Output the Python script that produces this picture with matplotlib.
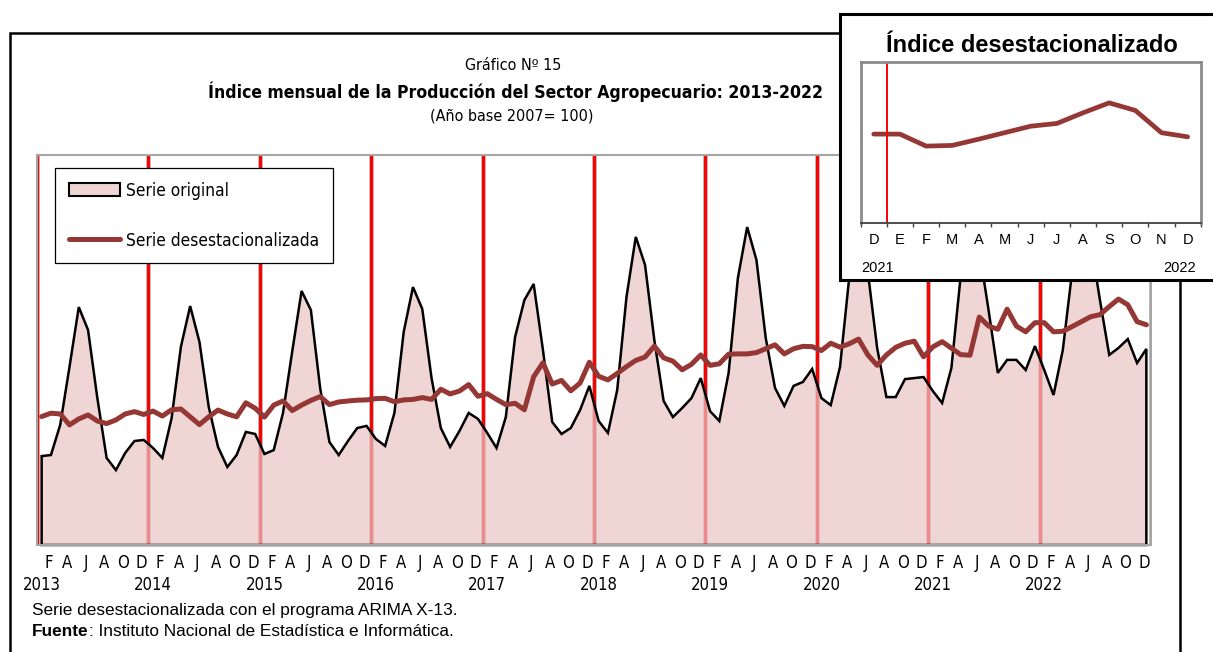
import os
import matplotlib
matplotlib.use('Agg')
import matplotlib.pyplot as plt
from matplotlib import font_manager as fm
from matplotlib.patches import Rectangle, Patch
from matplotlib.lines import Line2D
import numpy as np

W, H = 1213, 652

years = list(range(2013, 2023))
month_marks = ['F', 'A', 'J', 'A', 'O', 'D']
inset_months = ['D', 'E', 'F', 'M', 'A', 'M', 'J', 'J', 'A', 'S', 'O', 'N', 'D']
inset_years = ['2021', '2022']

# Serie original, enero 2013 - diciembre 2022
original = [
    109.2, 109.6, 121.2, 143.5, 166.5, 157.7, 131.5, 108.5, 103.8, 110.4, 115.0, 115.4,
    112.3, 108.5, 123.8, 151.2, 166.9, 153.1, 128.1, 112.7, 105.0, 109.6, 118.5, 117.7,
    110.0, 111.5, 125.8, 149.6, 172.7, 165.4, 135.4, 114.6, 109.6, 115.0, 120.0, 120.8,
    115.8, 113.1, 125.8, 156.9, 174.2, 165.8, 139.2, 120.0, 112.7, 118.8, 125.8, 123.5,
    118.1, 112.3, 124.2, 155.0, 169.2, 175.4, 150.0, 122.3, 117.7, 120.0, 126.9, 136.2,
    122.7, 118.1, 134.6, 170.4, 193.5, 182.7, 153.8, 130.4, 124.2, 127.7, 131.5, 139.2,
    126.5, 122.7, 141.2, 177.7, 197.3, 184.6, 154.6, 135.4, 128.5, 136.2, 137.7, 142.7,
    131.5, 128.8, 143.5, 178.1, 194.2, 180.0, 150.8, 131.9, 131.9, 138.8, 139.2, 139.6,
    134.2, 129.6, 143.1, 178.5, 199.2, 188.5, 165.4, 141.2, 146.2, 146.2, 142.3, 151.5,
    142.3, 132.7, 150.0, 180.0, 201.9, 191.5, 169.2, 148.1, 150.8, 154.2, 145.0, 150.4,
]

# Serie desestacionalizada (ARIMA X-13)
sa = [
    124.4, 125.7, 125.4, 121.2, 123.5, 125.0, 122.7, 121.7, 123.1, 125.4, 126.3, 125.2,
    126.5, 124.6, 127.0, 127.3, 124.3, 121.3, 124.3, 126.9, 125.4, 124.3, 129.7, 127.6,
    124.2, 128.8, 130.4, 126.7, 128.8, 130.6, 132.1, 129.0, 130.0, 130.4, 130.7, 130.8,
    131.3, 131.4, 130.1, 130.8, 131.0, 131.7, 131.0, 134.9, 133.1, 134.2, 136.7, 132.2,
    133.2, 131.0, 129.0, 129.5, 127.0, 139.7, 145.1, 136.9, 138.3, 134.3, 137.3, 145.3,
    139.9, 138.5, 141.0, 143.6, 146.0, 147.3, 151.5, 147.0, 145.7, 142.4, 144.5, 148.1,
    144.1, 144.7, 148.4, 148.5, 148.5, 149.0, 150.5, 152.0, 148.5, 150.5, 151.4, 151.3,
    149.8, 152.6, 151.1, 152.4, 154.2, 148.1, 144.1, 148.1, 151.0, 152.6, 153.4, 147.4,
    151.2, 153.2, 150.7, 148.2, 148.0, 162.7, 159.2, 158.0, 165.7, 159.2, 157.0, 160.5,
    160.5, 157.0, 157.2, 159.0, 160.9, 162.8, 163.6, 166.7, 169.6, 167.4, 160.9, 159.7,
]

FILL = (234 / 255, 196 / 255, 196 / 255, 0.7)
SA_COLOR = '#953735'

_files = {os.path.basename(f.fname): f.fname for f in fm.fontManager.ttflist}


def font(size, bold=False, narrow=False):
    # Arial Narrow no esta disponible: se busca la variante condensada mas cercana
    if narrow:
        cands = (['LiberationSansNarrow-Bold.ttf', 'NotoSans-CondensedBold.ttf',
                  'DejaVuSansCondensed-Bold.ttf'] if bold else
                 ['LiberationSansNarrow-Regular.ttf', 'NotoSans-Condensed.ttf',
                  'DejaVuSansCondensed.ttf'])
        for c in cands:
            if c in _files:
                return fm.FontProperties(fname=_files[c], size=size)
    return fm.FontProperties(family=['Liberation Sans', 'DejaVu Sans'], size=size,
                             weight='bold' if bold else 'normal')


def fx(px):
    return px / W


def fy(py):
    return 1 - py / H


fig = plt.figure(figsize=(W / 100, H / 100), dpi=100)

# marco exterior del grafico
fig.add_artist(Rectangle((fx(10), fy(670)), fx(1180) - fx(10), fy(33) - fy(670),
                         transform=fig.transFigure, fill=False, ec='black', lw=1.8, zorder=2))

fig.text(fx(513), fy(66), 'Gráfico Nº 15', ha='center', va='center',
         fontproperties=font(11.5, narrow=True))
fig.text(fx(516), fy(92), 'Índice mensual de la Producción del Sector Agropecuario: 2013-2022',
         ha='center', va='center', fontproperties=font(12.6, bold=True, narrow=True))
fig.text(fx(512), fy(116), '(Año base 2007= 100)', ha='center', va='center',
         fontproperties=font(11.5, narrow=True))

# grafico principal
ax = fig.add_axes([fx(37), fy(545), (1151 - 37) / W, 390 / H])
n = len(original)
x = np.arange(n)
ax.set_xlim(-0.5, n - 0.5)
ax.set_ylim(75, 225)

# separadores de año
for k in range(len(years) + 1):
    ax.axvline(12 * k - 0.5, color='#b4b4b4', lw=3.4, zorder=1)
    ax.axvline(12 * k - 0.5, color='#ff0000', lw=2.2, zorder=1)

base = ax.get_ylim()[0]
ax.fill([0] + list(x) + [n - 1], [base] + original + [base], facecolor=FILL,
        edgecolor='black', lw=1.8, zorder=2, clip_on=False)
ax.plot(x, sa, color=SA_COLOR, lw=3.6, zorder=3, solid_joinstyle='round', solid_capstyle='round')

ax.set_xticks([])
ax.set_yticks([])
for s in ax.spines.values():
    s.set_color('#a6a6a6')
    s.set_linewidth(1.5)

tr = ax.get_xaxis_transform()
for k, yr in enumerate(years):
    ax.text(12 * k, -0.103, str(yr), transform=tr, ha='center', va='center',
            fontproperties=font(12, narrow=True))
    for j, m in enumerate(month_marks):
        ax.text(12 * k + 2 * j + 1 - 0.25, -0.046, m, transform=tr, ha='center', va='center',
                fontproperties=font(12, narrow=True))

handles = [Patch(facecolor=FILL, edgecolor='black', lw=1.5),
           Line2D([], [], color=SA_COLOR, lw=3.6, solid_capstyle='round')]
leg = ax.legend(handles, ['Serie original', 'Serie desestacionalizada'], loc='upper left',
                bbox_to_anchor=(fx(55), fy(168)), bbox_transform=fig.transFigure,
                borderaxespad=0, fancybox=False, edgecolor='black', framealpha=1,
                prop=font(12.4, narrow=True), handlelength=3.0, handleheight=0.8,
                handletextpad=0.35, labelspacing=1.85, borderpad=0.8)
leg.get_frame().set_linewidth(0.9)

# notas al pie
fig.text(fx(32), fy(610), 'Serie desestacionalizada con el programa ARIMA X-13.',
         ha='left', va='center', fontproperties=font(12.4))
t = fig.text(fx(32), fy(632), 'Fuente', ha='left', va='center', fontproperties=font(12.4, bold=True))
fig.canvas.draw()
bb = t.get_window_extent()
fig.text(bb.x1 / W, fy(632), ': Instituto Nacional de Estadística e Informática.',
         ha='left', va='center', fontproperties=font(12.4))

# recuadro del indice desestacionalizado
fig.add_artist(Rectangle((fx(840), fy(280)), fx(1240) - fx(840), fy(14) - fy(280),
                         transform=fig.transFigure, fc='white', ec='black', lw=2.2, zorder=3))
fig.text(fx(1032), fy(45), 'Índice desestacionalizado', ha='center', va='center',
         fontproperties=font(17, bold=True), zorder=5)

ins = fig.add_axes([fx(860.7), fy(223.3), 340 / W, 161.6 / H], zorder=4)
last = sa[-len(inset_months):]
xi = np.arange(len(inset_months))
ins.plot(xi, last, color=SA_COLOR, lw=3.4, solid_joinstyle='round', solid_capstyle='round')
ins.axvline(0.5, color='#ff0000', lw=1.4)
ins.set_xlim(-0.5, len(inset_months) - 0.5)
ins.set_ylim(134.5, 181.6)
ins.set_yticks([])
ins.set_xticks(np.arange(-0.5, len(inset_months), 1))
ins.set_xticklabels([])
ins.tick_params(axis='x', direction='out', length=3, width=1, color='#404040')
for side in ['left', 'top', 'right']:
    ins.spines[side].set_color('#8c8c8c')
    ins.spines[side].set_linewidth(2)
ins.spines['bottom'].set_color('#404040')
ins.spines['bottom'].set_linewidth(1.3)

itr = ins.get_xaxis_transform()
for j, m in enumerate(inset_months):
    ins.text(j, -0.103, m, transform=itr, ha='center', va='center', fontproperties=font(10.5))
ins.text(0.16, -0.277, inset_years[0], transform=itr, ha='center', va='center',
         fontproperties=font(10.5))
ins.text(11.71, -0.277, inset_years[1], transform=itr, ha='center', va='center',
         fontproperties=font(10.5))

fig.savefig('out.png', dpi=100)
